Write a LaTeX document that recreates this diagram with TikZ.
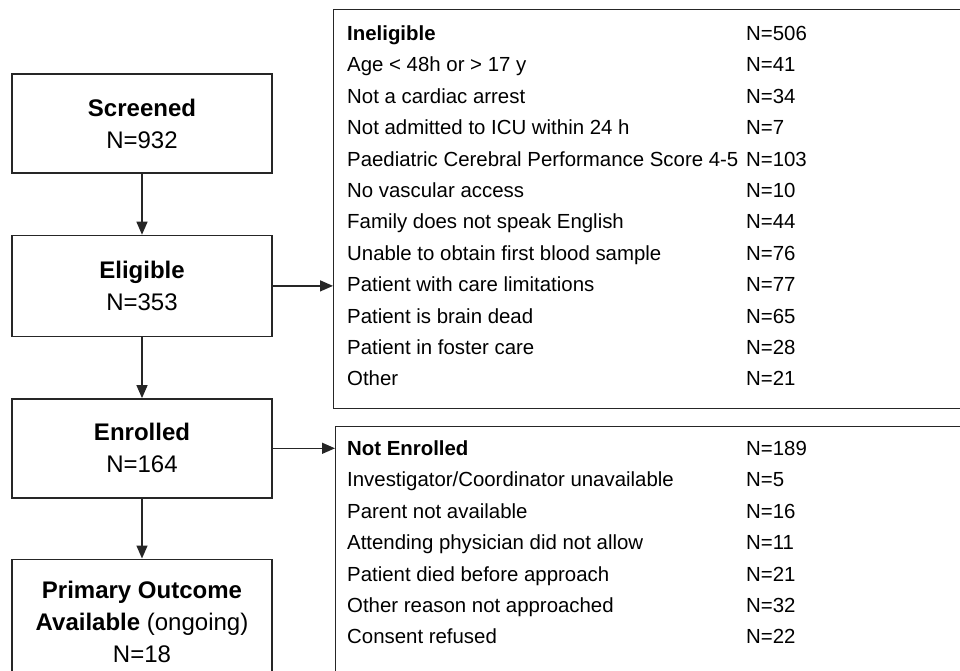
\documentclass[tikz,border=0pt]{standalone}
\usepackage{fontspec}
\setmainfont{Liberation Sans}
\usetikzlibrary{arrows.meta,positioning}

\begin{document}
\begin{tikzpicture}[x=1pt,y=-1pt]
\tikzset{flowbox/.style={draw=black!85, line width=1.4pt, minimum width=260pt, minimum height=99pt, align=center, font=\fontsize{24}{32}\selectfont},
listbox/.style={draw=black!85, line width=1.4pt, anchor=north west, minimum width=650pt},
listrows/.style={anchor=base west, inner sep=0pt, font=\fontsize{20.4}{31.4}\selectfont},
flowarrow/.style={draw=black!85, line width=1.4pt, -{Triangle[length=13pt,width=11pt]}}}
\useasboundingbox (0,0) rectangle (960,671);
\clip (0,0) rectangle (960,671);
% left column
\node[flowbox] (S) at (142,123.5) {\textbf{Screened}\\N=932};
\node[flowbox, below=61pt of S, minimum height=101pt] (E) {\textbf{Eligible}\\N=353};
\node[flowbox, below=61pt of E] (R) {\textbf{Enrolled}\\N=164};
\node[flowbox, below=60pt of R, minimum height=125pt] (P) {\textbf{Primary Outcome}\\\textbf{Available} (ongoing)\\N=18};
% right column
\node[listbox, minimum height=399pt] (I) at (333,9) {};
\node[listrows] (Irows) at (347,40.5) {\begin{tabular}[t]{@{}p{399pt}@{}l@{}}
\textbf{Ineligible} & N=506\\
Age < 48h or > 17 y & N=41\\
Not a cardiac arrest & N=34\\
Not admitted to ICU within 24 h & N=7\\
Paediatric Cerebral Performance Score 4-5 & N=103\\
No vascular access & N=10\\
Family does not speak English & N=44\\
Unable to obtain first blood sample & N=76\\
Patient with care limitations & N=77\\
Patient is brain dead & N=65\\
Patient in foster care & N=28\\
Other & N=21
\end{tabular}};
\node[listbox, minimum height=300pt] (N) at (335,426) {};
\node[listrows] (Nrows) at (347,455.5) {\begin{tabular}[t]{@{}p{399pt}@{}l@{}}
\textbf{Not Enrolled} & N=189\\
Investigator/Coordinator unavailable & N=5\\
Parent not available & N=16\\
Attending physician did not allow & N=11\\
Patient died before approach & N=21\\
Other reason not approached & N=32\\
Consent refused & N=22
\end{tabular}};
\draw[flowarrow] (S) -- (E);
\draw[flowarrow] (E) -- (R);
\draw[flowarrow] (R) -- (P);
\draw[flowarrow] (E.east) -- (E.east -| I.west);
\draw[flowarrow] (R.east) -- (R.east -| N.west);
\end{tikzpicture}
\end{document}
